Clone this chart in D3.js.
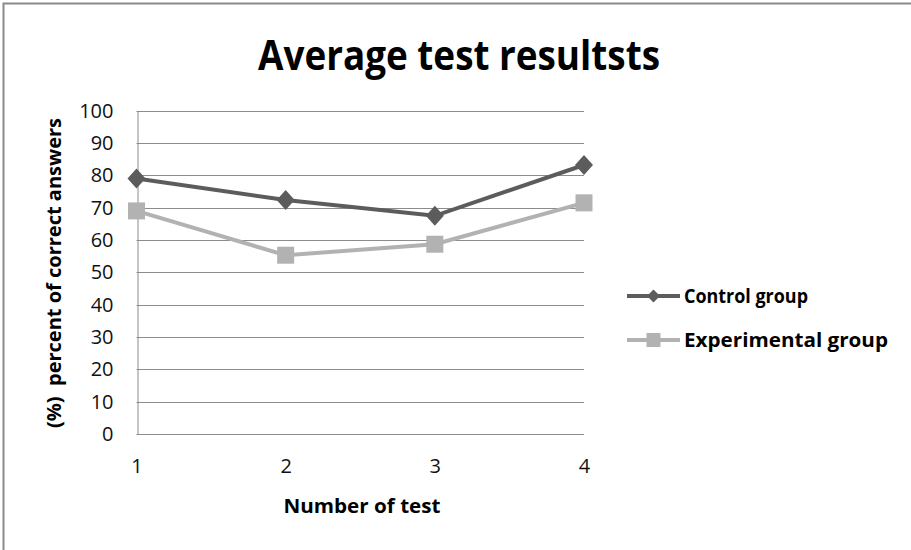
<!DOCTYPE html>
<html>
<head>
<meta charset="utf-8">
<script src="https://cdn.jsdelivr.net/npm/d3@7"></script>
<style>
  body { margin: 0; background: #fff; }
  svg { display: block; }
</style>
</head>
<body>
<svg></svg>
<script>
const width = 911;
const height = 550;

const tests = [1, 2, 3, 4];
const controlGroup = [79, 72.4, 67.5, 83.2];
const experimentalGroup = [69, 55.3, 58.7, 71.5];
const yTicks = [0, 10, 20, 30, 40, 50, 60, 70, 80, 90, 100];

const font = "'Open Sans', sans-serif";

const svg = d3.select('svg')
    .attr('width', width)
    .attr('height', height);

// chart frame
svg.append('rect')
   .attr('x', 3.5).attr('y', 3.5)
   .attr('width', 1000).attr('height', 1000)
   .attr('fill', 'none')
   .attr('stroke', '#8a8a8a')
   .attr('stroke-width', 2);

const xScale = d3.scaleLinear()
                 .domain([1, 4])
                 .range([136.5, 584]);

const yScale = d3.scaleLinear()
                 .domain([0, 100])
                 .range([434, 110.7]);

// gridlines
svg.append('g')
   .selectAll('line')
   .data(yTicks)
   .enter()
   .append('line')
   .attr('x1', xScale(1))
   .attr('x2', xScale(4))
   .attr('y1', d => Math.round(yScale(d)) + 0.5)
   .attr('y2', d => Math.round(yScale(d)) + 0.5)
   .attr('stroke', '#8c8c8c')
   .attr('stroke-width', 1);

// axes
const yAxis = d3.axisLeft(yScale).tickValues(yTicks).tickSize(0).tickPadding(24);
svg.append('g')
   .attr('transform', 'translate(' + (Math.round(xScale(1)) + 0.5) + ',0)')
   .attr('font-family', font)
   .attr('font-size', 20)
   .call(yAxis)
   .call(g => g.select('.domain').attr('stroke', '#8c8c8c'))
   .selectAll('text')
   .style('font-family', font)
   .style('font-size', '20px')
   .attr('fill', '#111');

const xAxis = d3.axisBottom(xScale).tickValues(tests).tickFormat(d3.format('d')).tickSize(0).tickPadding(24);
svg.append('g')
   .attr('transform', 'translate(0,' + (Math.round(yScale(0)) + 0.5) + ')')
   .call(xAxis)
   .call(g => g.select('.domain').remove())
   .selectAll('text')
   .style('font-family', font)
   .style('font-size', '20px')
   .attr('fill', '#111');

// series
const series = [
    { name: 'Control group', values: controlGroup, color: '#5c5c5c', shape: 'diamond' },
    { name: 'Experimental group', values: experimentalGroup, color: '#b2b2b2', shape: 'square' }
];

const line = d3.line()
               .x((d, i) => xScale(tests[i]))
               .y(d => yScale(d));

const diamond = 'M0,-10L9,0L0,10L-9,0Z';
const square = 'M-8.5,-8.5L8.5,-8.5L8.5,8.5L-8.5,8.5Z';

series.slice().reverse().forEach(s => {
    svg.append('path')
       .datum(s.values)
       .attr('d', line)
       .attr('fill', 'none')
       .attr('stroke', s.color)
       .attr('stroke-width', 4);

    svg.append('g')
       .selectAll('path')
       .data(s.values)
       .enter()
       .append('path')
       .attr('d', s.shape === 'diamond' ? diamond : square)
       .attr('transform', (d, i) => 'translate(' + xScale(tests[i]) + ',' + yScale(d) + ')')
       .attr('fill', s.color);
});

// title
svg.append('text')
   .attr('x', 459)
   .attr('y', 70)
   .attr('text-anchor', 'middle')
   .attr('font-family', font)
   .attr('font-size', 42)
   .attr('font-weight', 700)
   .attr('textLength', 402)
   .attr('lengthAdjust', 'spacingAndGlyphs')
   .attr('fill', '#000')
   .text('Average test resultsts');

// axis titles
svg.append('text')
   .attr('x', 362)
   .attr('y', 513)
   .attr('text-anchor', 'middle')
   .attr('font-family', font)
   .attr('font-size', 20)
   .attr('font-weight', 700)
   .attr('textLength', 157)
   .attr('lengthAdjust', 'spacingAndGlyphs')
   .attr('fill', '#000')
   .text('Number of test');

svg.append('text')
   .attr('transform', 'translate(61,273) rotate(-90)')
   .attr('text-anchor', 'middle')
   .attr('font-family', font)
   .attr('font-size', 20)
   .attr('font-weight', 700)
   .attr('textLength', 310)
   .attr('lengthAdjust', 'spacingAndGlyphs')
   .attr('fill', '#000')
   .attr('xml:space', 'preserve')
   .text('(%)  percent of correct answers');

// legend
const legend = svg.append('g')
    .selectAll('g')
    .data(series)
    .enter()
    .append('g')
    .attr('transform', (d, i) => 'translate(627,' + (296 + i * 44) + ')');

legend.append('line')
      .attr('x1', 0).attr('x2', 53)
      .attr('stroke', d => d.color)
      .attr('stroke-width', 4);

legend.append('path')
      .attr('d', d => d.shape === 'diamond' ? 'M0,-6.5L6.5,0L0,6.5L-6.5,0Z' : 'M-7,-7L7,-7L7,7L-7,7Z')
      .attr('transform', 'translate(26.5,0)')
      .attr('fill', d => d.color);

legend.append('text')
      .attr('x', 57)
      .attr('y', 7)
      .attr('font-family', font)
      .attr('font-size', 19)
      .attr('font-weight', 700)
      .attr('textLength', (d, i) => i === 0 ? 124 : 204)
      .attr('lengthAdjust', 'spacingAndGlyphs')
      .attr('fill', '#000')
      .text(d => d.name);
</script>
</body>
</html>
